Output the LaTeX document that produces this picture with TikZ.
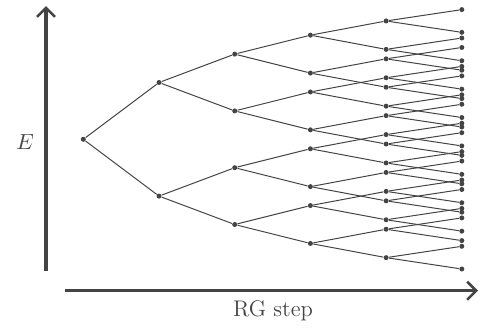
\documentclass[tikz,border=0pt]{standalone}
\usepackage{amsmath}
\usepackage{xcolor}
\usetikzlibrary{arrows.meta}

\definecolor{treegray}{HTML}{444444}

\begin{document}
\begin{tikzpicture}[x=0.5pt, y=0.5pt,
    vtx/.style={circle, fill=treegray, inner sep=0pt, minimum size=2.5pt},
    branch/.style={draw=treegray, line width=0.5pt},
    lbl/.style={text=treegray, font=\fontsize{11.3pt}{13pt}\selectfont},
    axisline/.style={draw=treegray, line width=1.7pt, -{Straight Barb[length=4.5pt, width=9pt, line width=1.3pt]}}]
        \useasboundingbox (0,0) rectangle (485,329);

        % axes
        \coordinate (ebot) at (46,58);
        \coordinate (etop) at (46,323);
        \coordinate (rgleft) at (65,38.3);
        \coordinate (rgright) at (478,38.3);
        \draw[axisline] (ebot) -- (etop);
        \draw[axisline] (rgleft) -- (rgright);
        \node[lbl] (elabel) at (25,186.5) {$E$};
        \node[lbl] (rglabel) at (273,18.5) {RG step};

        % splitting tree: level k shifts by +-d/k
        \node[vtx] (n-0-0) at (83.3,189.7) {};
        \foreach \k [evaluate=\k as \p using int(\k-1)] in {1,...,5} {
          \pgfmathtruncatemacro\last{2^\k-1}
          \foreach \i in {0,...,\last} {
            \pgfmathtruncatemacro\j{div(\i,2)}
            \pgfmathsetmacro\s{mod(\i,2)==0 ? 1 : -1}
            \node[vtx] (n-\k-\i) at ([shift={(75.7,\s*56.8/\k)}]n-\p-\j) {};
            \draw[branch] (n-\p-\j) -- (n-\k-\i);
          }
        }
      \end{tikzpicture}
\end{document}
